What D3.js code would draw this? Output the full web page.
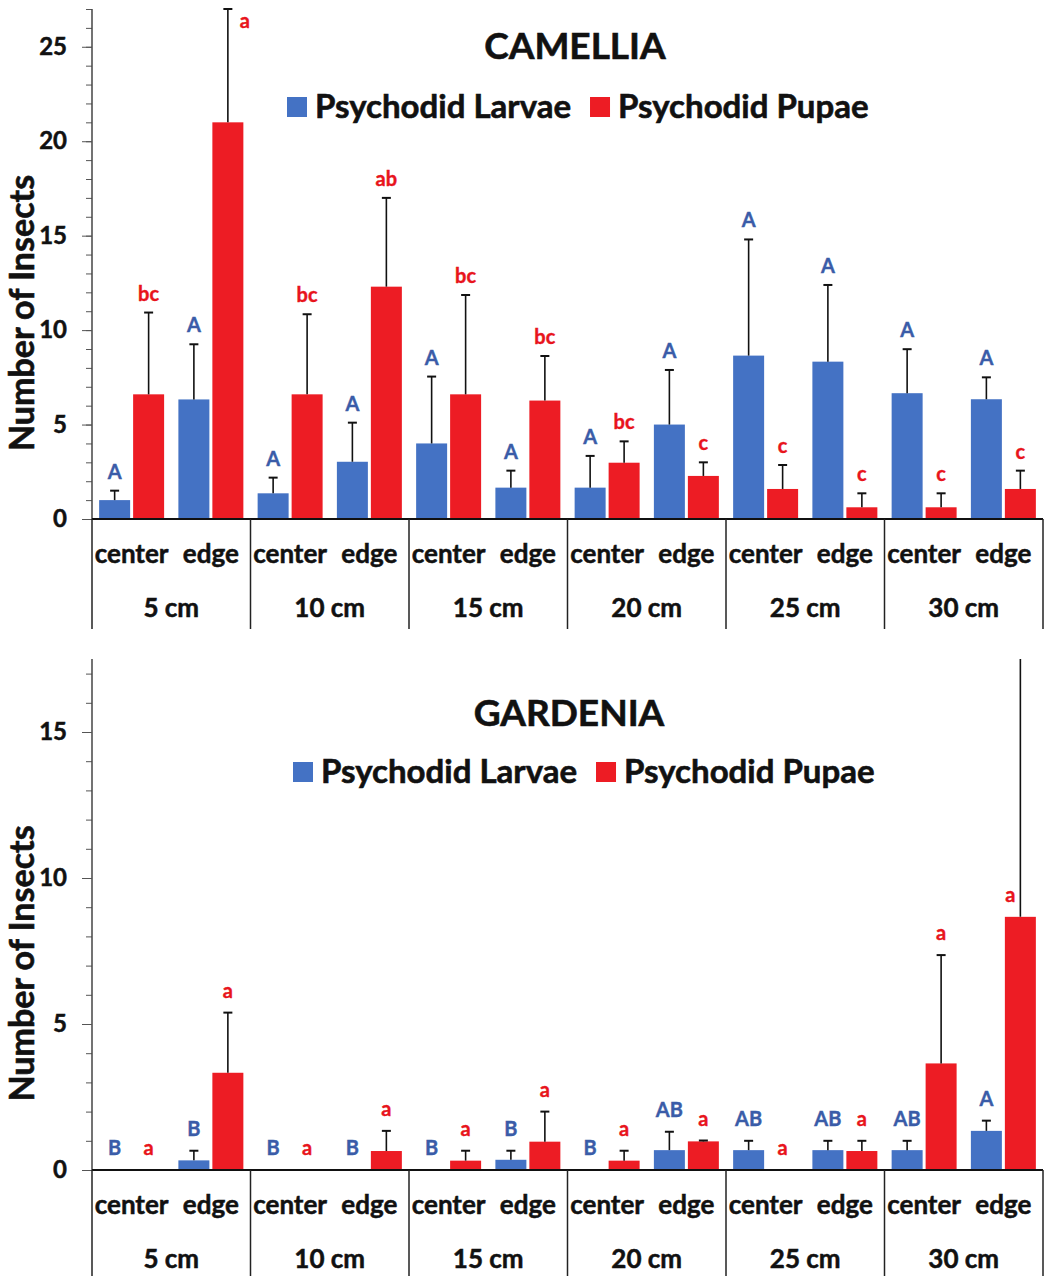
<!DOCTYPE html>
<html>
<head>
<meta charset="utf-8">
<script src="https://cdn.jsdelivr.net/npm/d3@7"></script>
<style>
body { margin: 0; background: #fff; }
text { font-family: Lato, "Open Sans", sans-serif; font-weight: bold; }
</style>
</head>
<body>
<svg id="chart" width="1048" height="1276"></svg>
<script>
// categories
var depths = ['5 cm', '10 cm', '15 cm', '20 cm', '25 cm', '30 cm'];
var positions = ['center', 'edge'];
var seriesNames = ['Psychodid Larvae', 'Psychodid Pupae'];

// values in order 5cm center, 5cm edge, 10cm center, 10cm edge, ...
var camLarvae   = [1.0, 6.33, 1.36, 3.03, 4.0, 1.66, 1.66, 5.0, 8.65, 8.33, 6.66, 6.34];
var camLarvaeSE = [0.5, 2.92, 0.83, 2.07, 3.54, 0.9, 1.68, 2.89, 6.15, 4.06, 2.33, 1.16];
var camLarvaeLetters = ['A', 'A', 'A', 'A', 'A', 'A', 'A', 'A', 'A', 'A', 'A', 'A'];
var camPupae    = [6.6, 21.0, 6.6, 12.3, 6.6, 6.27, 2.98, 2.28, 1.59, 0.62, 0.62, 1.59];
var camPupaeSE  = [4.33, 6.0, 4.24, 4.7, 5.26, 2.36, 1.13, 0.72, 1.27, 0.74, 0.74, 0.97];
var camPupaeLetters = ['bc', 'a', 'bc', 'ab', 'bc', 'bc', 'bc', 'c', 'c', 'c', 'c', 'c'];

var garLarvae   = [0, 0.33, 0, 0, 0, 0.35, 0, 0.68, 0.68, 0.68, 0.68, 1.34];
var garLarvaeSE = [0, 0.33, 0, 0, 0, 0.31, 0, 0.63, 0.32, 0.32, 0.32, 0.35];
var garLarvaeLetters = ['B', 'B', 'B', 'B', 'B', 'B', 'B', 'AB', 'AB', 'AB', 'AB', 'A'];
var garPupae    = [0, 3.33, 0, 0.65, 0.32, 0.97, 0.32, 0.98, 0, 0.65, 3.65, 8.67];
var garPupaeSE  = [0, 2.06, 0, 0.69, 0.34, 1.03, 0.34, 0.03, 0, 0.35, 3.71, 9.0];
var garPupaeLetters = ['a', 'a', 'a', 'a', 'a', 'a', 'a', 'a', 'a', 'a', 'a', 'a'];

var camTicks = [0, 5, 10, 15, 20, 25];
var garTicks = [0, 5, 10, 15];

var blue = '#4472c4', red = '#ed1c24';
var blueText = '#3a5ca8', redText = '#e8141c';

var svg = d3.select('#chart');
var left = 92, right = 1043;

// slightly heavier text, the original font is a heavy Calibri bold
function heavy(sel, w) {
	sel.attr('stroke', function() { return d3.select(this).attr('fill'); })
		.attr('stroke-width', w || 0.5).attr('paint-order', 'stroke');
}

function drawChart(c) {
	var g = svg.append('g');

	var xg = d3.scaleBand().domain(depths).range([left, right]);
	var xs = d3.scaleBand().domain(positions).range([0, xg.bandwidth()]);
	var xb = d3.scaleBand().domain(['larvae', 'pupae']).range([0, xs.bandwidth()])
		.paddingInner(0.088).paddingOuter(0.21);
	var y = d3.scaleLinear().domain([0, c.ymax]).range([c.y0, c.yTop]);

	var rows = [];
	depths.forEach(function(d, i) {
		positions.forEach(function(p, j) {
			var k = i * 2 + j;
			rows.push({depth: d, pos: p, s: 'larvae', v: c.larvae[k], se: c.larvaeSE[k], L: c.larvaeLetters[k], col: blue, tcol: blueText});
			rows.push({depth: d, pos: p, s: 'pupae', v: c.pupae[k], se: c.pupaeSE[k], L: c.pupaeLetters[k], col: red, tcol: redText});
		});
	});
	rows.forEach(function(d) {
		d.x = xg(d.depth) + xs(d.pos) + xb(d.s);
		d.cx = d.x + xb.bandwidth() / 2;
		d.top = d.v + d.se;
		d.clipped = d.top >= c.ymax - 0.01;
	});

	// bars
	g.selectAll('rect.bar').data(rows.filter(function(d) { return d.v > 0; }))
		.enter().append('rect')
		.attr('x', function(d) { return d.x; })
		.attr('y', function(d) { return y(d.v); })
		.attr('width', xb.bandwidth())
		.attr('height', function(d) { return y(0) - y(d.v); })
		.attr('fill', function(d) { return d.col; });

	// error bars
	var eb = rows.filter(function(d) { return d.se > 0; });
	g.selectAll('line.err').data(eb).enter().append('line')
		.attr('x1', function(d) { return d.cx; })
		.attr('x2', function(d) { return d.cx; })
		.attr('y1', function(d) { return y(d.v); })
		.attr('y2', function(d) { return y(Math.min(d.top, c.ymax)); })
		.attr('stroke', '#111').attr('stroke-width', 1.6);
	g.selectAll('line.cap').data(eb.filter(function(d) { return d.top <= c.ymax; })).enter().append('line')
		.attr('x1', function(d) { return d.cx - 4.5; })
		.attr('x2', function(d) { return d.cx + 4.5; })
		.attr('y1', function(d) { return y(d.top); })
		.attr('y2', function(d) { return y(d.top); })
		.attr('stroke', '#111').attr('stroke-width', 2);

	// letters
	g.selectAll('text.letter').data(rows).enter().append('text')
		.attr('x', function(d) {
			if (!d.clipped) return d.cx;
			return c.clipLabel == 'right' ? d.cx + 12 : d.cx - 5;
		})
		.attr('y', function(d) {
			if (!d.clipped) return y(d.top) - c.letterGap;
			return c.clipLabel == 'right' ? c.yTop + 19 : y(d.v) - 15;
		})
		.attr('text-anchor', function(d) {
			if (!d.clipped) return 'middle';
			return c.clipLabel == 'right' ? 'start' : 'end';
		})
		.attr('fill', function(d) { return d.tcol; })
		.style('font-size', '20px')
		.text(function(d) { return d.L; })
		.call(heavy, 0.4);

	// y axis: minor then major
	var minor = d3.axisLeft(y).tickValues(d3.range(0, Math.floor(c.ymax) + 1)).tickSize(6).tickFormat('');
	g.append('g').attr('transform', 'translate(' + left + ',0)').call(minor)
		.call(function(a) { a.select('.domain').remove(); a.selectAll('line').attr('stroke', '#555'); });
	var major = d3.axisLeft(y).tickValues(c.ticks).tickSize(10).tickPadding(15);
	g.append('g').attr('transform', 'translate(' + left + ',0)').call(major)
		.call(function(a) {
			a.select('.domain').attr('d', 'M0,' + c.y0 + 'V' + c.yTop).attr('stroke', '#444').attr('stroke-width', 1.5);
			a.selectAll('line').attr('stroke', '#555');
			a.selectAll('text').attr('fill', '#111').style('font-size', '24px').attr('font-family', null)
				.call(heavy, 0.5);
		});

	// x axis line and dividers
	g.append('line').attr('x1', left).attr('x2', right).attr('y1', c.y0).attr('y2', c.y0)
		.attr('stroke', '#111').attr('stroke-width', 1.8);
	var divs = depths.map(function(d) { return xg(d); }).concat([right]);
	g.selectAll('line.div').data(divs).enter().append('line')
		.attr('x1', function(d) { return d; }).attr('x2', function(d) { return d; })
		.attr('y1', c.y0).attr('y2', c.y0 + 110)
		.attr('stroke', '#222').attr('stroke-width', 1.5);

	var subs = [];
	depths.forEach(function(d) { positions.forEach(function(p) { subs.push({d: d, p: p}); }); });
	g.selectAll('text.pos').data(subs).enter().append('text')
		.attr('x', function(d) { return xg(d.d) + xs(d.p) + xs.bandwidth() / 2; })
		.attr('y', c.y0 + 44)
		.attr('text-anchor', 'middle')
		.style('font-size', '26px').attr('fill', '#111')
		.text(function(d) { return d.p; })
		.call(heavy, 0.5);
	g.selectAll('text.depth').data(depths).enter().append('text')
		.attr('x', function(d) { return xg(d) + xg.bandwidth() / 2; })
		.attr('y', c.y0 + 98)
		.attr('text-anchor', 'middle')
		.style('font-size', '26px').attr('fill', '#111')
		.text(function(d) { return d; })
		.call(heavy, 0.5);

	// y title
	var ty = (c.yTop + c.y0 + 110) / 2 - 6;
	g.append('text')
		.attr('transform', 'translate(34,' + ty + ') rotate(-90)')
		.attr('text-anchor', 'middle')
		.style('font-size', '34px').attr('fill', '#111')
		.text('Number of Insects')
		.call(heavy, 0.6);

	// title
	g.append('text').attr('x', c.titleX).attr('y', c.titleY)
		.attr('text-anchor', 'middle').style('font-size', '37px').attr('fill', '#111')
		.text(c.title)
		.call(heavy, 0.6);

	// legend
	var lx = c.legendX;
	seriesNames.forEach(function(name, i) {
		g.append('rect').attr('x', lx).attr('y', c.legendY - 10).attr('width', 20).attr('height', 20)
			.attr('fill', i == 0 ? blue : red);
		var t = g.append('text').attr('x', lx + 28).attr('y', c.legendY + 11)
			.style('font-size', '33px').attr('fill', '#111').text(name)
			.call(heavy, 0.6);
		lx += 28 + t.node().getComputedTextLength() + 19;
	});
}

drawChart({
	title: 'CAMELLIA', titleX: 575, titleY: 59, legendX: 287, legendY: 107,
	y0: 519, yTop: 9, ymax: 27, ticks: camTicks, letterGap: 12, clipLabel: 'right',
	larvae: camLarvae, larvaeSE: camLarvaeSE, larvaeLetters: camLarvaeLetters,
	pupae: camPupae, pupaeSE: camPupaeSE, pupaeLetters: camPupaeLetters
});
drawChart({
	title: 'GARDENIA', titleX: 569, titleY: 726, legendX: 293, legendY: 772,
	y0: 1170, yTop: 659, ymax: 17.5, ticks: garTicks, letterGap: 15, clipLabel: 'left',
	larvae: garLarvae, larvaeSE: garLarvaeSE, larvaeLetters: garLarvaeLetters,
	pupae: garPupae, pupaeSE: garPupaeSE, pupaeLetters: garPupaeLetters
});
</script>
</body>
</html>
